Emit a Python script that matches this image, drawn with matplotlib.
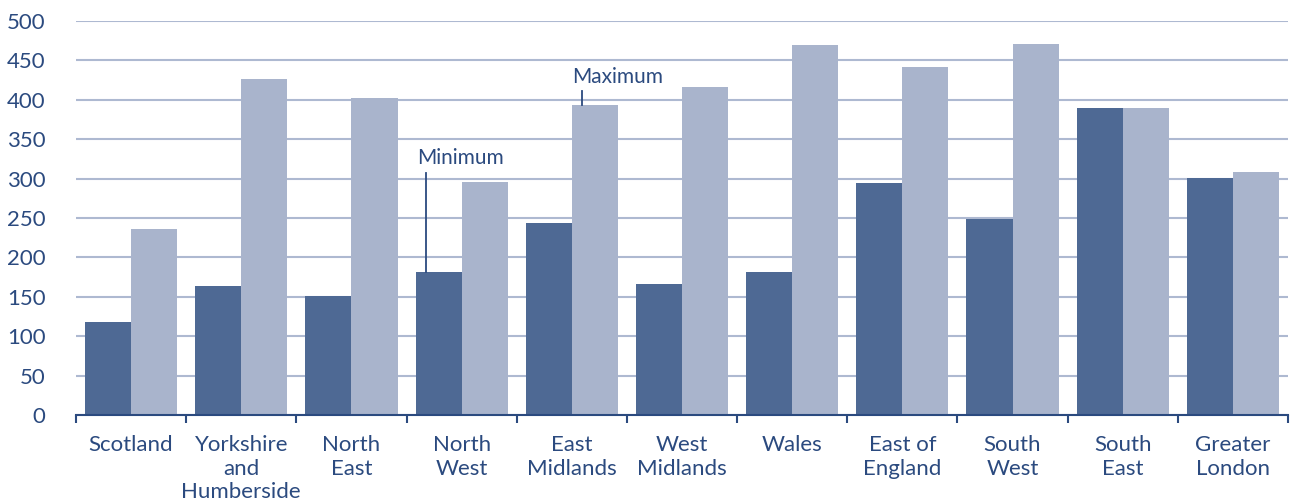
import matplotlib
matplotlib.use("Agg")
import matplotlib.pyplot as plt
import numpy as np

regions = ["Scotland", "Yorkshire\nand\nHumberside", "North\nEast", "North\nWest",
           "East\nMidlands", "West\nMidlands", "Wales", "East of\nEngland",
           "South\nWest", "South\nEast", "Greater\nLondon"]
minimum = [118, 164, 151, 181, 244, 166, 181, 294, 249, 390, 301]
maximum = [236, 426, 402, 296, 393, 416, 470, 441, 471, 390, 308]
y_ticks = [0, 50, 100, 150, 200, 250, 300, 350, 400, 450, 500]

dark = "#4e6994"
light = "#a9b4cc"
text_color = "#2b4a7f"
grid_color = "#aeb9d1"

plt.rcParams["font.family"] = ["Lato", "DejaVu Sans"]

fig = plt.figure(figsize=(12.92, 5.03), dpi=100)
ax = fig.add_axes([76 / 1292, 88 / 503, 1212 / 1292, 394 / 503])

x = np.arange(len(regions))
w = 0.418
ax.bar(x - w / 2, minimum, width=w, color=dark, zorder=3)
ax.bar(x + w / 2, maximum, width=w, color=light, zorder=3)

ax.set_xlim(-0.5, len(regions) - 0.5)
ax.set_ylim(0, 500)
ax.set_yticks(y_ticks)
ax.set_yticklabels([str(v) for v in y_ticks], color=text_color, fontsize=16)
ax.yaxis.grid(True, color=grid_color, linewidth=1.5, zorder=0)
ax.set_axisbelow(True)

ax.set_xticks(x)
ax.set_xticklabels(regions, color=text_color, fontsize=16, linespacing=1.22,
                   va="top")
ax.set_xticks(np.arange(-0.5, len(regions)), minor=True)
ax.tick_params(axis="x", which="major", length=0, pad=14.5)
ax.tick_params(axis="x", which="minor", length=6, width=1.5, color=text_color,
               direction="out")
ax.tick_params(axis="y", length=0, pad=22)

for side in ["top", "right", "left"]:
    ax.spines[side].set_visible(False)
ax.spines["bottom"].set_color(text_color)
ax.spines["bottom"].set_linewidth(1.5)
ax.spines["bottom"].set_zorder(4)

# Callouts identifying the two series
ax.plot([2.68, 2.68], [minimum[3], 307], color=text_color, lw=1.3, zorder=4)
ax.text(2.6, 326, "Minimum", color=text_color, fontsize=15, ha="left", va="center")
ax.plot([4.09, 4.09], [maximum[4], 411], color=text_color, lw=1.3, zorder=4)
ax.text(4.0, 429, "Maximum", color=text_color, fontsize=15, ha="left", va="center")

fig.savefig("out.png", dpi=100)
